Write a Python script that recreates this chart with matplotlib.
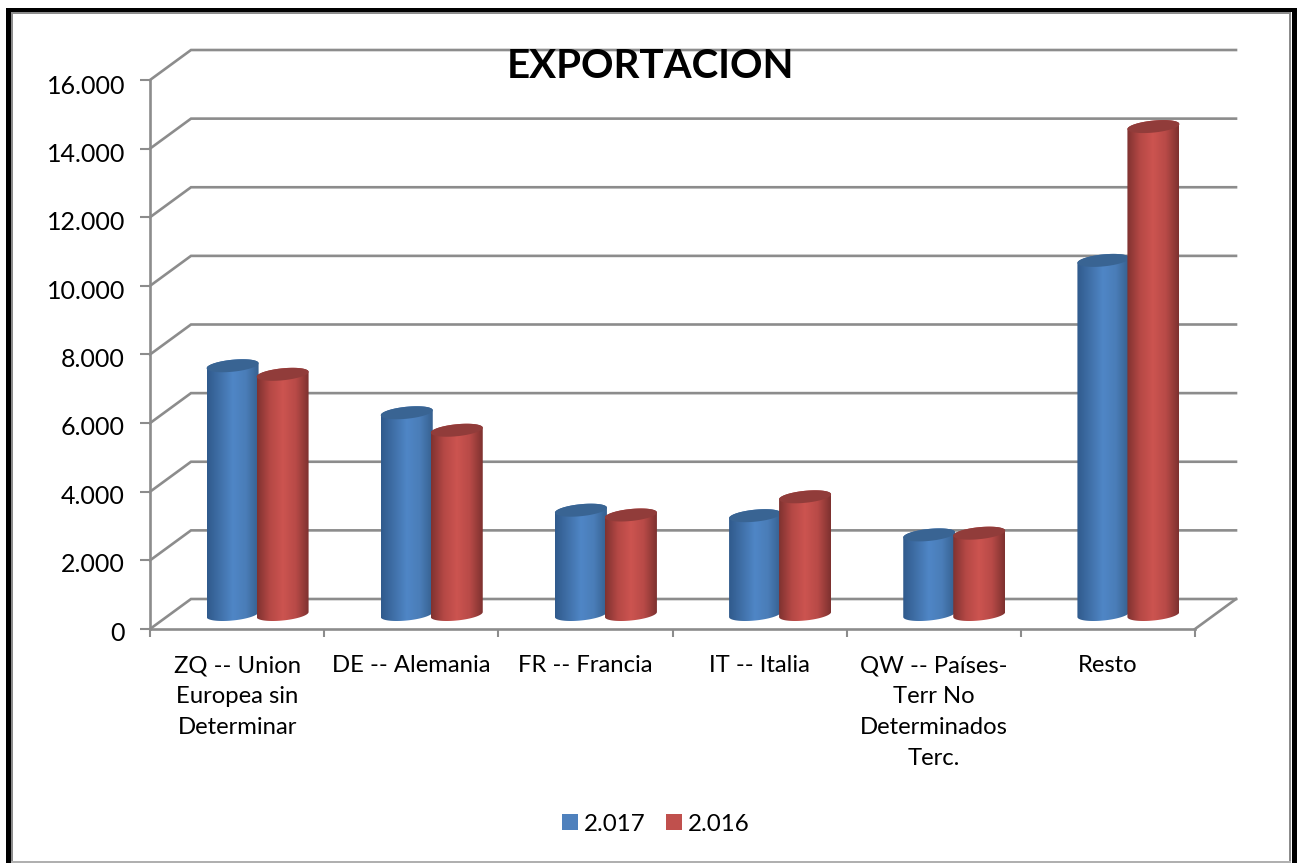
"""Exportacion chart: 3D style cylinders drawn on a flat axes"""
import numpy as np
import matplotlib
matplotlib.use('Agg')
import matplotlib.pyplot as plt
from matplotlib.colors import LinearSegmentedColormap
from matplotlib.patches import Patch, PathPatch, Polygon, Rectangle
from matplotlib.path import Path
from matplotlib.transforms import ScaledTranslation

plt.rcParams['font.family'] = ['Lato', 'DejaVu Sans']

categories = ['ZQ -- Union\nEuropea sin\nDeterminar', 'DE -- Alemania', 'FR -- Francia',
              'IT -- Italia', 'QW -- Países-\nTerr No\nDeterminados\nTerc.', 'Resto']
values_2017 = [7250, 5880, 3040, 2880, 2320, 10320]
values_2016 = [7000, 5370, 2900, 3430, 2370, 14220]
y_ticks = [0, 2000, 4000, 6000, 8000, 10000, 12000, 14000, 16000]
y_labels = ['0', '2.000', '4.000', '6.000', '8.000', '10.000', '12.000', '14.000', '16.000']

W, H = 1297, 863
GREY = '#8c8c8c'
BLUE = ['#305a8c', '#4070a8', '#4f86c6', '#4a7db8', '#36608f']
RED = ['#7f3230', '#b54845', '#cc5450', '#b84a47', '#7d312f']
BLUE_CAP = '#396493'
RED_CAP = '#913c3a'

fig = plt.figure(figsize=(W / 100, H / 100), dpi=100)
# plot box in pixels: x 150-1195, y 80-629
ax = fig.add_axes([150 / W, 1 - 629 / H, 1045 / W, 549 / H])
ax.patch.set_alpha(0)
ax.set_xlim(0, 6)
ax.set_ylim(0, 16000)

px = 6 / 1045
py = 16000 / 549
wall_dx, wall_dy = 41 * px, 30 * py
mid_dx, mid_dy = 20.5 * px, 14.5 * py

# back wall and floor
for v in y_ticks:
    ax.plot([0, wall_dx, 6 + wall_dx], [v, v + wall_dy, v + wall_dy], color=GREY, lw=1.9,
            clip_on=False, zorder=1, solid_joinstyle='miter')
ax.plot([6, 6 + wall_dx], [0, wall_dy], color=GREY, lw=1.9, clip_on=False, zorder=1)

for name in ('top', 'right'):
    ax.spines[name].set_visible(False)
for name in ('left', 'bottom'):
    ax.spines[name].set_color(GREY)
    ax.spines[name].set_linewidth(1.9)

ax.set_yticks(y_ticks, y_labels, fontsize=18, color='black')
ax.tick_params(axis='y', length=7, width=1.5, color=GREY, pad=11)
# labels drift a little from their ticks in the original
for v, label in zip(y_ticks, ax.get_yticklabels()):
    shift = ScaledTranslation(0, -(2 + 2 * v / 16000) / 100, fig.dpi_scale_trans)
    label.set_transform(label.get_transform() + shift)
ax.set_xticks(range(7), [])
ax.tick_params(axis='x', length=6, width=1.5, color=GREY)
ax.set_xticks(np.arange(6) + 0.5, categories, minor=True, fontsize=17.2, va='top', linespacing=1.58)
ax.tick_params(axis='x', which='minor', length=0, pad=19)


def cylinder(xc, value, colors, cap_color, z):
    """One cylinder, depth offset applied, shaded with a clipped gradient"""
    a = 26 * px
    b = 6 * py
    tilt = 2.5 * py
    cx = xc + mid_dx
    y0, y1 = mid_dy, value + mid_dy
    t_low = np.linspace(np.pi, 2 * np.pi, 40)
    t_up = np.linspace(0, np.pi, 40)
    low = np.column_stack((cx + a * np.cos(t_low), y0 + b * np.sin(t_low) + tilt * np.cos(t_low)))
    up = np.column_stack((cx + a * np.cos(t_up), y1 + b * np.sin(t_up) + tilt * np.cos(t_up)))
    verts = np.vstack((low, up, low[:1]))
    body = PathPatch(Path(verts, closed=True), facecolor='none', edgecolor='none', zorder=z)
    ax.add_patch(body)
    cmap = LinearSegmentedColormap.from_list('c', colors)
    img = ax.imshow(np.linspace(0, 1, 256)[None, :], cmap=cmap, aspect='auto', zorder=z,
                    extent=[cx - a, cx + a, y0 - 2 * b, y1 + 2 * b], interpolation='bilinear')
    img.set_clip_path(body)
    t = np.linspace(0, 2 * np.pi, 80)
    cap = np.column_stack((cx + a * np.cos(t), y1 + b * np.sin(t) + tilt * np.cos(t)))
    ax.add_patch(Polygon(cap, closed=True, facecolor=cap_color, edgecolor='none', zorder=z + 0.01))


for i in range(len(categories)):
    step = 50 * px / 2
    cylinder(i + 0.5 - step, values_2017[i], BLUE, BLUE_CAP, 3 + i * 0.1)
    cylinder(i + 0.5 + step, values_2016[i], RED, RED_CAP, 3 + i * 0.1 + 0.05)

ax.set_xlim(0, 6)
ax.set_ylim(0, 16000)

fig.text(651 / W, 1 - 67 / H, 'EXPORTACION', fontsize=29, fontweight='bold', ha='center', va='center',
         zorder=10)

handles = [Patch(facecolor='#4f81bd', label='2.017'), Patch(facecolor='#c0504d', label='2.016')]
fig.legend(handles=handles, loc='center', bbox_to_anchor=(656 / W, 1 - 824 / H), ncol=2, frameon=False,
           fontsize=17.4, handlelength=0.64, handleheight=0.64, handletextpad=0.25, columnspacing=0.85)


def frame_box(x0, y0, x1, y1, color):
    """Filled box given in image pixels, used for the chart frame"""
    fig.add_artist(Rectangle((x0 / W, 1 - y1 / H), (x1 - x0) / W, (y1 - y0) / H, transform=fig.transFigure,
                             facecolor=color, edgecolor='none', zorder=20))


frame_box(11, 12, 13, 862, '#8c8c8c')
frame_box(11, 12, 1291, 14, '#8c8c8c')
frame_box(1289, 12, 1291, 862, '#8c8c8c')
frame_box(11, 861, 1291, 863, '#b0b0b0')
frame_box(6, 8, 11, 863, 'black')
frame_box(6, 8, 1297, 12, 'black')
frame_box(1292, 8, 1297, 863, 'black')

fig.savefig('out.png', dpi=100)
